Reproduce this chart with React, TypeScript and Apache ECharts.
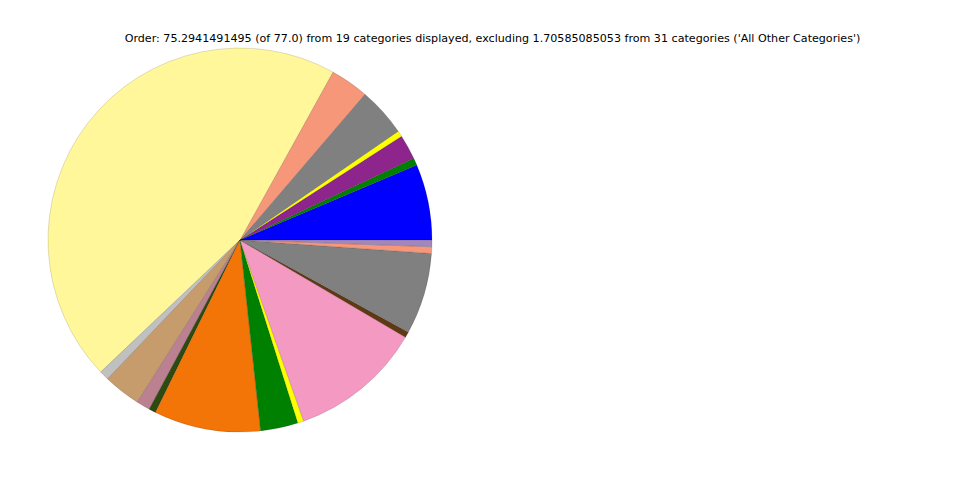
import React, { useEffect, useRef } from "react";
import * as echarts from "echarts";

const categories = [
  "Blue", "Green", "Purple", "Yellow", "Gray", "Salmon", "Light Yellow", "Light Gray",
  "Tan", "Mauve", "Dark Green", "Orange", "Green 2", "Yellow 2", "Pink", "Brown",
  "Gray 2", "Salmon 2", "Lavender",
];
const values = [
  4.81, 0.46, 1.58, 0.37, 3.12, 2.43, 33.99, 0.61,
  2.36, 0.86, 0.44, 6.76, 2.38, 0.38, 8.41, 0.36,
  5.17, 0.42, 0.42,
];
const colors = [
  "#0000ff", "#008000", "#8e258d", "#ffff00", "#808080", "#f7977a", "#fff799", "#c0c0c0",
  "#c69c6d", "#bc8190", "#2d4a10", "#f37407", "#008000", "#ffff00", "#f49ac2", "#603813",
  "#808080", "#f7977a", "#a187be",
];
const titleText =
  "Order: 75.2941491495 (of 77.0) from 19 categories displayed, excluding 1.70585085053 from 31 categories ('All Other Categories')";

export default function App() {
  const ref = useRef<HTMLDivElement>(null);
  useEffect(() => {
    if (!ref.current) return;
    const chart = echarts.init(ref.current, null, { renderer: "svg" });
    chart.setOption({
      animation: false,
      backgroundColor: "#ffffff",
      graphic: [
        {
          type: "text",
          x: 492.5,
          y: 38,
          style: {
            text: titleText,
            fontFamily: "DejaVu Sans",
            fontSize: 11.12,
            fill: "#000000",
            textAlign: "center",
            textVerticalAlign: "middle",
          },
        },
      ],
      series: [
        {
          type: "pie",
          center: [240, 240],
          radius: [0, 192],
          startAngle: 0,
          clockwise: false,
          minAngle: 0,
          avoidLabelOverlap: false,
          label: { show: false },
          labelLine: { show: false },
          emphasis: { disabled: true },
          itemStyle: { borderColor: "rgba(0,0,0,0.25)", borderWidth: 0.5 },
          data: categories.map((c, i) => ({
            name: c,
            value: values[i],
            itemStyle: { color: colors[i] },
          })),
        },
      ],
    });
    return () => chart.dispose();
  }, []);
  return (
    <div
      ref={ref}
      style={{ position: "fixed", left: 0, top: 0, width: 960, height: 480 }}
    />
  );
}
